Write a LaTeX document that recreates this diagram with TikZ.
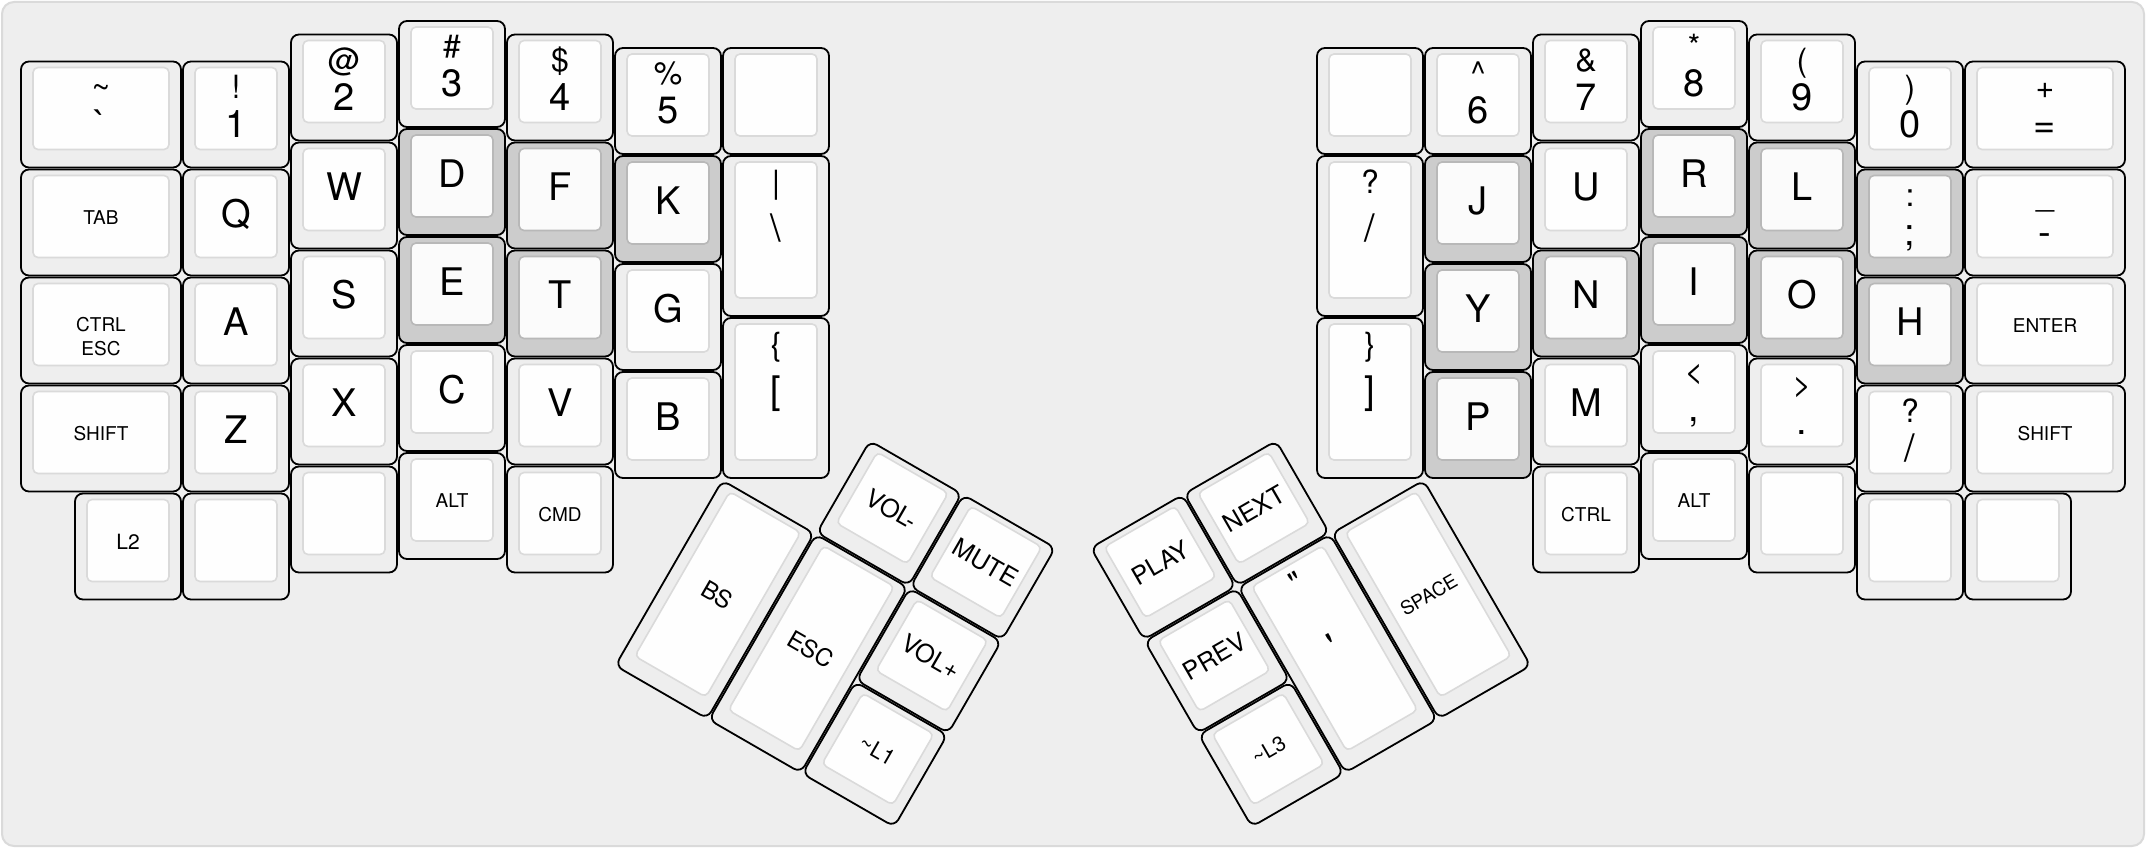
\documentclass[tikz,border=0pt]{standalone}
\usepackage{fontspec}
\setmainfont{TeX Gyre Heros}
\definecolor{kbBack}{HTML}{EEEEEE}
\definecolor{kbFrame}{HTML}{DADADA}
\definecolor{kbLite}{HTML}{EEEEEE}
\definecolor{kbLiteFace}{HTML}{FEFEFE}
\definecolor{kbLiteEdge}{HTML}{DADADA}
\definecolor{kbDark}{HTML}{CCCCCC}
\definecolor{kbDarkFace}{HTML}{FBFBFB}
\definecolor{kbDarkEdge}{HTML}{B8B8B8}
\tikzset{
  keybody/.style={draw=black, line width=1.8pt, rounded corners=8pt, anchor=north west, inner sep=0pt, outer sep=0pt},
  keyface/.style={line width=1.6pt, rounded corners=5pt, anchor=north west, inner sep=0pt, outer sep=0pt},
  lite body/.style={fill=kbLite},
  lite face/.style={fill=kbLiteFace, draw=kbLiteEdge},
  dark body/.style={fill=kbDark},
  dark face/.style={fill=kbDarkFace, draw=kbDarkEdge},
  lgtop/.style={anchor=base, inner sep=0pt, font=\fontsize{32}{34}\selectfont},
  lgbig/.style={anchor=base, inner sep=0pt, font=\fontsize{38}{40}\selectfont},
  lgsm/.style={anchor=center, inner sep=0pt, font=\fontsize{19}{21}\selectfont},
  board/.style={fill=kbBack, draw=kbFrame, line width=2pt, rounded corners=12pt}
}
\newcommand\kbkey[7]{%
  \def\kname{#1}%
  \pgfmathsetmacro\kxa{21+108*#2}%
  \pgfmathsetmacro\kya{21+108*#3}%
  \pgfmathsetmacro\kw{108*#4-2}%
  \pgfmathsetmacro\kh{108*#5-2}%
  \pgfmathsetmacro\kfw{\kw-24}%
  \pgfmathsetmacro\kfh{\kh-24}%
  \pgfmathsetmacro\kcx{\kxa+\kw/2}%
  \pgfmathsetmacro\kfc{\kya+6+\kfh/2}%
  \pgfmathsetmacro\kbb{#5>1.2 ? \kfc+11 : \kya+76}%
  \node[keybody,#6 body,minimum width=\kw,minimum height=\kh] (#1) at (\kxa,\kya) {};%
  \node[keyface,#6 face,minimum width=\kfw,minimum height=\kfh] (#1-f) at (\kxa+12,\kya+6) {};%
  #7}
\newcommand\lgTwo[2]{%
  \node[lgtop] (\kname-t) at (\kcx,\kya+37) {#1};%
  \node[lgbig] (\kname-b) at (\kcx,\kbb) {#2};}
\newcommand\lgBig[1]{\node[lgbig] (\kname-l) at (\kcx,\kya+58) {#1};}
\newcommand\lgSm[2][19]{\node[lgsm,font=\fontsize{#1}{#1}\selectfont] (\kname-l) at (\kcx,\kfc+1) {#2};}
\newcommand\lgSmTwo[2]{%
  \node[lgsm,anchor=base] (\kname-t) at (\kcx,\kfc+7) {#1};%
  \node[lgsm,anchor=base] (\kname-b) at (\kcx,\kfc+31) {#2};}
\begin{document}
\begin{tikzpicture}[x=1pt,y=-1pt]
\useasboundingbox (0,0) rectangle (2146,848);
\fill[white] (0,0) rectangle (2146,848);
\path[board] (2,2) rectangle (2144,846);
% ---------------- left half ----------------
\kbkey{k00}{0}{0.375}{1.5}{1}{lite}{\lgTwo{\textasciitilde}{\textasciigrave}}
\kbkey{k01}{1.5}{0.375}{1}{1}{lite}{\lgTwo{!}{1}}
\kbkey{k02}{2.5}{0.125}{1}{1}{lite}{\lgTwo{@}{2}}
\kbkey{k03}{3.5}{0}{1}{1}{lite}{\lgTwo{\#}{3}}
\kbkey{k04}{4.5}{0.125}{1}{1}{lite}{\lgTwo{\$}{4}}
\kbkey{k05}{5.5}{0.25}{1}{1}{lite}{\lgTwo{\%}{5}}
\kbkey{k06}{6.5}{0.25}{1}{1}{lite}{}
\kbkey{k10}{0}{1.375}{1.5}{1}{lite}{\lgSm{TAB}}
\kbkey{k11}{1.5}{1.375}{1}{1}{lite}{\lgBig{Q}}
\kbkey{k12}{2.5}{1.125}{1}{1}{lite}{\lgBig{W}}
\kbkey{k13}{3.5}{1}{1}{1}{dark}{\lgBig{D}}
\kbkey{k14}{4.5}{1.125}{1}{1}{dark}{\lgBig{F}}
\kbkey{k15}{5.5}{1.25}{1}{1}{dark}{\lgBig{K}}
\kbkey{k16}{6.5}{1.25}{1}{1.5}{lite}{\lgTwo{\textbar}{\textbackslash}}
\kbkey{k20}{0}{2.375}{1.5}{1}{lite}{\lgSmTwo{CTRL}{ESC}}
\kbkey{k21}{1.5}{2.375}{1}{1}{lite}{\lgBig{A}}
\kbkey{k22}{2.5}{2.125}{1}{1}{lite}{\lgBig{S}}
\kbkey{k23}{3.5}{2}{1}{1}{dark}{\lgBig{E}}
\kbkey{k24}{4.5}{2.125}{1}{1}{dark}{\lgBig{T}}
\kbkey{k25}{5.5}{2.25}{1}{1}{lite}{\lgBig{G}}
\kbkey{k26}{6.5}{2.75}{1}{1.5}{lite}{\lgTwo{\{}{[}}
\kbkey{k30}{0}{3.375}{1.5}{1}{lite}{\lgSm{SHIFT}}
\kbkey{k31}{1.5}{3.375}{1}{1}{lite}{\lgBig{Z}}
\kbkey{k32}{2.5}{3.125}{1}{1}{lite}{\lgBig{X}}
\kbkey{k33}{3.5}{3}{1}{1}{lite}{\lgBig{C}}
\kbkey{k34}{4.5}{3.125}{1}{1}{lite}{\lgBig{V}}
\kbkey{k35}{5.5}{3.25}{1}{1}{lite}{\lgBig{B}}
\kbkey{k42}{2.5}{4.125}{1}{1}{lite}{}
\kbkey{k43}{3.5}{4}{1}{1}{lite}{\lgSm{ALT}}
\kbkey{k44}{4.5}{4.125}{1}{1}{lite}{\lgSm{CMD}}
\kbkey{k40}{0.5}{4.375}{1}{1}{lite}{\lgSm[21]{L2}}
\kbkey{k41}{1.5}{4.375}{1}{1}{lite}{}
% ---------------- right half ----------------
\kbkey{r06}{12}{0.25}{1}{1}{lite}{}
\kbkey{r05}{13}{0.25}{1}{1}{lite}{\lgTwo{\textasciicircum}{6}}
\kbkey{r04}{14}{0.125}{1}{1}{lite}{\lgTwo{\&}{7}}
\kbkey{r03}{15}{0}{1}{1}{lite}{\lgTwo{*}{8}}
\kbkey{r02}{16}{0.125}{1}{1}{lite}{\lgTwo{(}{9}}
\kbkey{r01}{17}{0.375}{1}{1}{lite}{\lgTwo{)}{0}}
\kbkey{r00}{18}{0.375}{1.5}{1}{lite}{\lgTwo{+}{=}}
\kbkey{r16}{12}{1.25}{1}{1.5}{lite}{\lgTwo{?}{/}}
\kbkey{r15}{13}{1.25}{1}{1}{dark}{\lgBig{J}}
\kbkey{r14}{14}{1.125}{1}{1}{lite}{\lgBig{U}}
\kbkey{r13}{15}{1}{1}{1}{dark}{\lgBig{R}}
\kbkey{r12}{16}{1.125}{1}{1}{dark}{\lgBig{L}}
\kbkey{r11}{17}{1.375}{1}{1}{dark}{\lgTwo{:}{;}}
\kbkey{r10}{18}{1.375}{1.5}{1}{lite}{\lgTwo{\_}{-}}
\kbkey{r25}{13}{2.25}{1}{1}{dark}{\lgBig{Y}}
\kbkey{r24}{14}{2.125}{1}{1}{dark}{\lgBig{N}}
\kbkey{r23}{15}{2}{1}{1}{dark}{\lgBig{I}}
\kbkey{r22}{16}{2.125}{1}{1}{dark}{\lgBig{O}}
\kbkey{r21}{17}{2.375}{1}{1}{dark}{\lgBig{H}}
\kbkey{r20}{18}{2.375}{1.5}{1}{lite}{\lgSm{ENTER}}
\kbkey{r26}{12}{2.75}{1}{1.5}{lite}{\lgTwo{\}}{]}}
\kbkey{r35}{13}{3.25}{1}{1}{dark}{\lgBig{P}}
\kbkey{r34}{14}{3.125}{1}{1}{lite}{\lgBig{M}}
\kbkey{r33}{15}{3}{1}{1}{lite}{\lgTwo{<}{,}}
\kbkey{r32}{16}{3.125}{1}{1}{lite}{\lgTwo{>}{.}}
\kbkey{r31}{17}{3.375}{1}{1}{lite}{\lgTwo{?}{/}}
\kbkey{r30}{18}{3.375}{1.5}{1}{lite}{\lgSm{SHIFT}}
\kbkey{r44}{14}{4.125}{1}{1}{lite}{\lgSm{CTRL}}
\kbkey{r43}{15}{4}{1}{1}{lite}{\lgSm{ALT}}
\kbkey{r42}{16}{4.125}{1}{1}{lite}{}
\kbkey{r41}{17}{4.375}{1}{1}{lite}{}
\kbkey{r40}{18}{4.375}{1}{1}{lite}{}
% ---------------- left thumb cluster ----------------
\begin{scope}[rotate around={-30:(722,479)}, transform shape]
\kbkey{t1}{7.5}{3.25}{1}{1}{lite}{\lgSm[25]{VOL-}}
\kbkey{t2}{8.5}{3.25}{1}{1}{lite}{\lgSm[25]{MUTE}}
\kbkey{t3}{6.5}{4.25}{1}{2}{lite}{\lgSm[24]{BS}}
\kbkey{t4}{7.5}{4.25}{1}{2}{lite}{\lgSm[24]{ESC}}
\kbkey{t5}{8.5}{4.25}{1}{1}{lite}{\lgSm[25]{VOL+}}
\kbkey{t6}{8.5}{5.25}{1}{1}{lite}{\lgSm[22]{\textasciitilde L1}}
\end{scope}
% ---------------- right thumb cluster ----------------
\begin{scope}[rotate around={30:(1424,479)}, transform shape]
\kbkey{u1}{10}{3.25}{1}{1}{lite}{\lgSm[25]{PLAY}}
\kbkey{u2}{11}{3.25}{1}{1}{lite}{\lgSm[25]{NEXT}}
\kbkey{u3}{10}{4.25}{1}{1}{lite}{\lgSm[25]{PREV}}
\kbkey{u4}{11}{4.25}{1}{2}{lite}{\lgTwo{\textquotedbl}{\textquotesingle}}
\kbkey{u5}{12}{4.25}{1}{2}{lite}{\lgSm{SPACE}}
\kbkey{u6}{10}{5.25}{1}{1}{lite}{\lgSm[21]{\textasciitilde L3}}
\end{scope}
\end{tikzpicture}
\end{document}
